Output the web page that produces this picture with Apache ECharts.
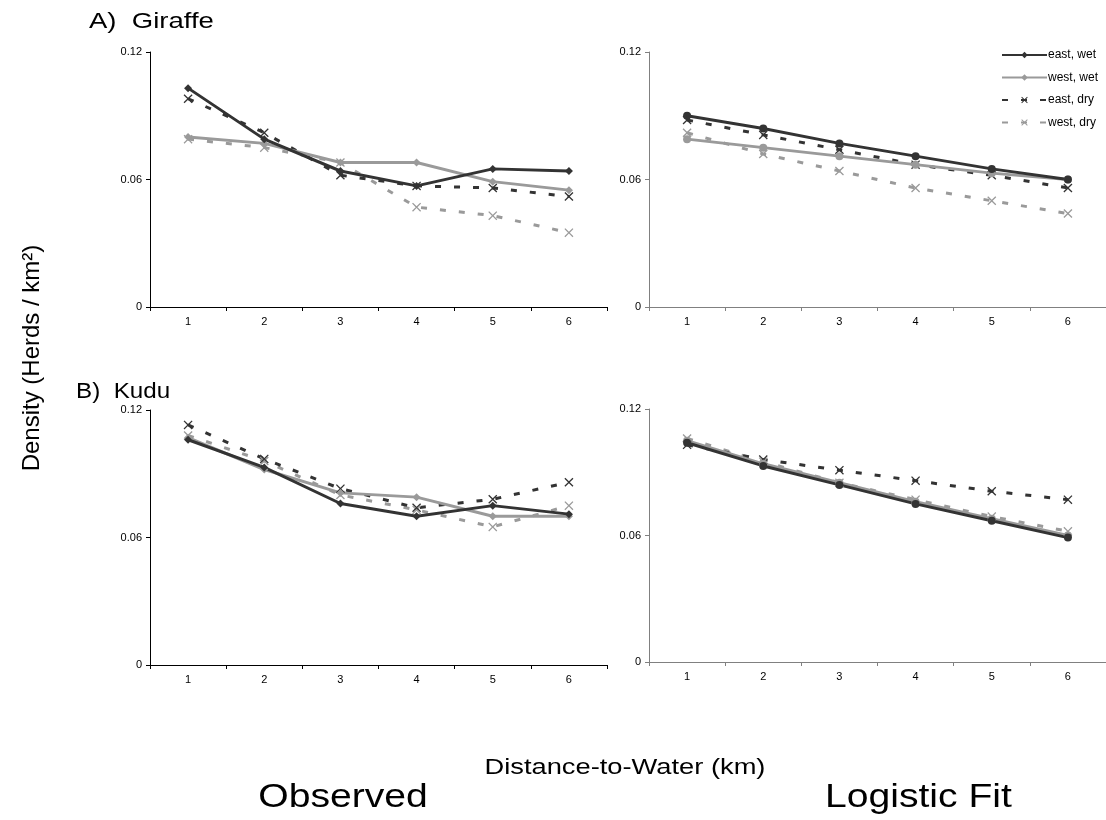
<!DOCTYPE html>
<html>
<head>
<meta charset="utf-8">
<script src="https://cdn.jsdelivr.net/npm/echarts@6/dist/echarts.min.js"></script>
<style>
html,body{margin:0;padding:0;background:#fff;}
#chart{width:1106px;height:820px;}
</style>
</head>
<body>
<div id="chart"></div>
<script>
const categories = ['1','2','3','4','5','6'];
const yTicks = [0, 0.06, 0.12];
const seriesNames = ['east, wet','west, wet','east, dry','west, dry'];

const giraffeObsEastWet = [0.103,0.079,0.064,0.057,0.065,0.064];
const giraffeObsWestWet = [0.080,0.077,0.068,0.068,0.059,0.055];
const giraffeObsEastDry = [0.098,0.082,0.062,0.057,0.056,0.052];
const giraffeObsWestDry = [0.079,0.075,0.068,0.047,0.043,0.035];

const giraffeFitEastWet = [0.090,0.084,0.077,0.071,0.065,0.060];
const giraffeFitWestWet = [0.079,0.075,0.071,0.067,0.063,0.060];
const giraffeFitEastDry = [0.088,0.081,0.074,0.067,0.062,0.056];
const giraffeFitWestDry = [0.082,0.072,0.064,0.056,0.050,0.044];

const kuduObsEastWet = [0.106,0.093,0.076,0.070,0.075,0.071];
const kuduObsWestWet = [0.107,0.092,0.081,0.079,0.070,0.070];
const kuduObsEastDry = [0.113,0.097,0.083,0.074,0.078,0.086];
const kuduObsWestDry = [0.108,0.096,0.080,0.073,0.065,0.075];

const kuduFitEastWet = [0.104,0.093,0.084,0.075,0.067,0.059];
const kuduFitWestWet = [0.105,0.094,0.085,0.076,0.068,0.060];
const kuduFitEastDry = [0.103,0.096,0.091,0.086,0.081,0.077];
const kuduFitWestDry = [0.106,0.095,0.085,0.077,0.069,0.062];

const DARK = '#333333', GRAY = '#9a9a9a';
const FONT = '"Liberation Sans", Arial, sans-serif';
const XSYM = 'path://M0,1L1,0L5,4L9,0L10,1L6,5L10,9L9,10L5,6L1,10L0,9L4,5Z';

const grids = [
  {left:150, top:52, width:457, height:255},
  {left:649, top:52, width:458, height:255},
  {left:150, top:410, width:457, height:255},
  {left:649, top:409, width:458, height:253}
];
const axisColors = ['#000','#808080','#000','#808080'];

const xAxes = grids.map((g,i)=>({
  type:'category', gridIndex:i, data:categories, boundaryGap:true,
  axisLine:{lineStyle:{color:axisColors[i], width:1}},
  axisTick:{show:true, length:4, alignWithLabel:false, lineStyle:{color:axisColors[i]}},
  axisLabel:{color:'#000', fontSize:11, fontFamily:FONT, margin:9}
}));
const yAxes = grids.map((g,i)=>({
  type:'value', gridIndex:i, min:yTicks[0], max:yTicks[2], interval:yTicks[1],
  axisLine:{show:true, lineStyle:{color:axisColors[i], width:1}},
  axisTick:{show:true, length:4, lineStyle:{color:axisColors[i]}},
  splitLine:{show:false},
  axisLabel:{color:'#000', fontSize:11, fontFamily:FONT, margin:8,
    formatter:v=> v===0?'0':String(Number(v.toFixed(2)))}
}));

function mk(name, data, idx, color, dashed, symbol){
  return {
    name, type:'line', xAxisIndex:idx, yAxisIndex:idx, data,
    symbol, symbolSize: symbol===XSYM?9:8,
    lineStyle:{color, width:3, type: dashed?[6,13]:'solid'},
    itemStyle:{color},
    animation:false
  };
}
const panels = [
  [giraffeObsEastWet,giraffeObsWestWet,giraffeObsEastDry,giraffeObsWestDry,'diamond'],
  [giraffeFitEastWet,giraffeFitWestWet,giraffeFitEastDry,giraffeFitWestDry,'circle'],
  [kuduObsEastWet,kuduObsWestWet,kuduObsEastDry,kuduObsWestDry,'diamond'],
  [kuduFitEastWet,kuduFitWestWet,kuduFitEastDry,kuduFitWestDry,'circle']
];
const series = [];
panels.forEach((p,i)=>{
  series.push(mk(seriesNames[3], p[3], i, GRAY, true, XSYM));
  series.push(mk(seriesNames[2], p[2], i, DARK, true, XSYM));
  series.push(mk(seriesNames[1], p[1], i, GRAY, false, p[4]));
  series.push(mk(seriesNames[0], p[0], i, DARK, false, p[4]));
});

function txt(text, x, y, size, align, opts){
  return Object.assign({type:'text', x, y, silent:true,
    style:{text, fontSize:size, fontFamily:FONT, fill:'#000', textAlign:align, textVerticalAlign:'middle'}}, opts||{});
}

const option = {
  animation:false,
  backgroundColor:'#fff',
  grid: grids,
  xAxis: xAxes,
  yAxis: yAxes,
  series,
  legend:{
    data: seriesNames.map(n=>({name:n})),
    orient:'vertical', left:996, top:44, itemWidth:45, itemHeight:8, itemGap:10.5,
    textStyle:{fontSize:12, fontFamily:FONT, color:'#000', padding:[0,0,0,-4]},
    selectedMode:false
  },
  graphic:[
    txt('A)  Giraffe', 89, 22, 22, 'left', {scaleX:1.25}),
    txt('B)  Kudu', 76, 392, 22, 'left', {scaleX:1.1}),
    txt('Density (Herds / km²)', 32, 358, 24, 'center', {rotation:Math.PI/2}),
    txt('Distance-to-Water (km)', 625, 768, 22, 'center', {scaleX:1.24}),
    txt('Observed', 343, 798, 34, 'center', {scaleX:1.15}),
    txt('Logistic Fit', 825, 798, 34, 'left', {scaleX:1.15})
  ]
};
const chart = echarts.init(document.getElementById('chart'), null, {renderer:'canvas'});
chart.setOption(option);
</script>
</body>
</html>
